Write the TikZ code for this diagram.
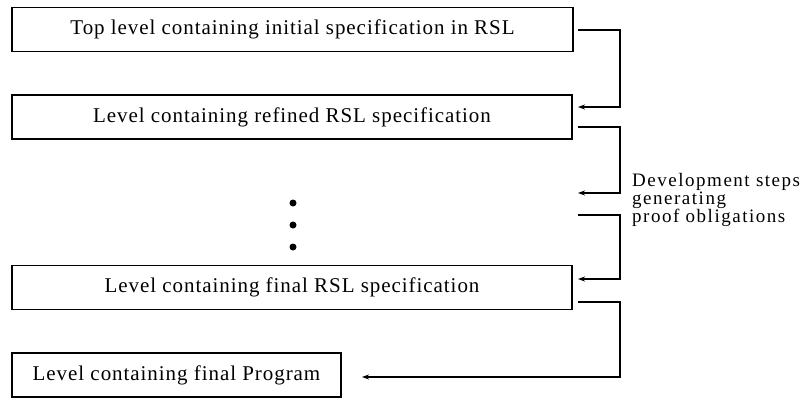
\documentclass[tikz,border=0pt]{standalone}
\usepackage{fontspec}
\setmainfont{Liberation Serif}
\usetikzlibrary{arrows.meta}

\begin{document}
\begin{tikzpicture}[x=1pt,y=-1pt,
    level/.style={draw,line width=1.2pt,inner sep=0pt,
        minimum height=44pt,
        font=\fontsize{21}{24}\selectfont\addfontfeatures{LetterSpace=4.5}},
    link/.style={line width=1.4pt,-{Stealth[length=7pt,width=5pt]}},
    bullet/.style={circle,fill,inner sep=0pt,minimum size=7pt}
]
    \useasboundingbox (0,0) rectangle (805,399);

    \node[level,minimum width=561pt] (top) at (292.5,29.5)
        {Top level containing initial specification in RSL};
    \node[level,minimum width=560pt] (refined) at (292,117)
        {Level containing refined RSL specification};
    \node[level,minimum width=560pt] (final) at (292,287.5)
        {Level containing final RSL specification};
    \node[level,minimum width=329pt] (prog) at (176.5,375)
        {Level containing final Program};

    \node[bullet] (d1) at (293,203) {};
    \node[bullet] (d2) at (293,225) {};
    \node[bullet] (d3) at (293,247) {};

    \node[anchor=north west,align=left,inner sep=0pt,
        font=\fontsize{19}{18}\selectfont\addfontfeatures{LetterSpace=8}]
        (steps) at (632,173)
        {Development steps\\generating\\proof obligations};

    % step ends
    \coordinate (o1) at (578,30);
    \coordinate (i2) at (578,107);
    \coordinate (o2) at (578,127);
    \coordinate (i3) at (578,193);
    \coordinate (o3) at (578,215);
    \coordinate (i4) at (578,279);
    \coordinate (o4) at (578,302);
    \coordinate (i5) at (362,377);

    \foreach \a/\b in {o1/i2,o2/i3,o3/i4,o4/i5}
        \draw[link] (\a) -- ++(42,0) |- (\b);
\end{tikzpicture}
\end{document}
